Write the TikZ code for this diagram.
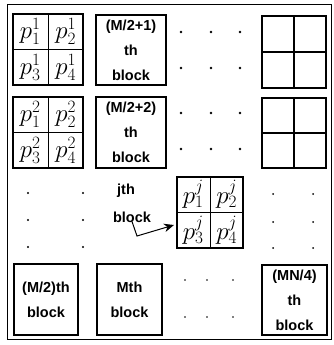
\documentclass[tikz,border=0pt]{standalone}
\usepackage{fontspec}
\newfontfamily\lblfont{Liberation Sans}
\usetikzlibrary{calc,arrows.meta}

\tikzset{
  frame/.style={draw, line width=1pt},
  gbox/.style={draw, line width=1.2pt, inner sep=0pt},
  divider/.style={line width=0.9pt},
  emptydiv/.style={line width=1.3pt},
  blockbox/.style={draw, line width=1.1pt, inner sep=0pt, align=center,
    font=\lblfont\bfseries\fontsize{14.5}{25}\selectfont},
  lbl/.style={inner sep=0pt, font=\lblfont\bfseries\fontsize{14.5}{17}\selectfont},
  pmath/.style={inner sep=0pt, font=\fontsize{23}{25}\selectfont},
  dotmark/.style={fill=black, draw=none},
  pointer/.style={line width=1pt, -{Stealth[length=10pt,width=8.5pt]}}
}

% 2x2 grid of pixels p_1..p_4 with a given superscript
\newcommand\pixgrid[5]{% name, center, width, height, superscript
  \node[gbox, minimum width=#3, minimum height=#4] (#1) at #2 {};
  \draw[divider] (#1.north) -- (#1.south);
  \draw[divider] (#1.west) -- (#1.east);
  \node[pmath] (#1-a) at ($(#1.center)!0.5!(#1.north west)$) {$p_1^{#5}$};
  \node[pmath] (#1-b) at ($(#1.center)!0.5!(#1.north east)$) {$p_2^{#5}$};
  \node[pmath] (#1-c) at ($(#1.center)!0.5!(#1.south west)$) {$p_3^{#5}$};
  \node[pmath] (#1-d) at ($(#1.center)!0.5!(#1.south east)$) {$p_4^{#5}$};
}
% empty 2x2 grid
\newcommand\emptygrid[4]{% name, center, width, height
  \node[gbox, line width=1.4pt, minimum width=#3, minimum height=#4] (#1) at #2 {};
  \draw[emptydiv] (#1.north) -- (#1.south);
  \draw[emptydiv] (#1.west) -- (#1.east);
}

\begin{document}
\begin{tikzpicture}[x=1pt, y=-1pt]
  \useasboundingbox (0,0) rectangle (333,345);

  % outer frame of the image
  \node[frame, minimum width=324pt, minimum height=334pt, inner sep=0pt] (img) at (169,172) {};

  % first two rows of blocks
  \pixgrid{g1}{(48,49.5)}{70pt}{71pt}{1}
  \pixgrid{g2}{(48,132.5)}{70pt}{71pt}{2}
  \node[blockbox, minimum width=70pt, minimum height=70pt] (b1) at (131,50) {(M/2+1)\\th\\block};
  \node[blockbox, minimum width=70pt, minimum height=71pt] (b2) at (131,132.5) {(M/2+2)\\th\\block};
  \emptygrid{e1}{(294,52)}{64pt}{72pt}
  \emptygrid{e2}{(294,133)}{64pt}{70pt}

  % j-th block
  \node[lbl] (jth) at (126,191) {jth};
  \node[lbl] (jblk) at (132,217) {block};
  \pixgrid{gj}{(210,212.5)}{66pt}{71pt}{j}
  \coordinate (bend) at (137,236);
  \coordinate (tip) at (174,225);
  \draw[pointer] (jblk.south) ++(0,-1) -- (bend) -- (tip);

  % last row of blocks
  \node[blockbox, minimum width=64pt, minimum height=71pt] (bl) at (46,299.5) {(M/2)th\\block};
  \node[blockbox, minimum width=65pt, minimum height=71pt] (bm) at (129.5,299.5) {Mth\\block};
  \node[blockbox, minimum width=65pt, minimum height=70pt] (bn) at (294.5,300) {(MN/4)\\th\\block};

  % ellipsis dots
  \foreach \y in {32,68,113,149}
    \foreach \x in {181,211,240}
      \fill[dotmark] (\x,\y) circle (1.3pt);
  \foreach \y in {193,220,247}
    \foreach \x in {28,83}
      \fill[dotmark] (\x,\y) circle (1.1pt);
  \foreach \y in {194,222,248}
    \foreach \x in {273,313}
      \fill[dotmark] (\x,\y) circle (1pt);
  \foreach \y in {280,317}
    \foreach \x in {185,207,233}
      \fill[dotmark] (\x,\y) circle (0.9pt);
\end{tikzpicture}
\end{document}
